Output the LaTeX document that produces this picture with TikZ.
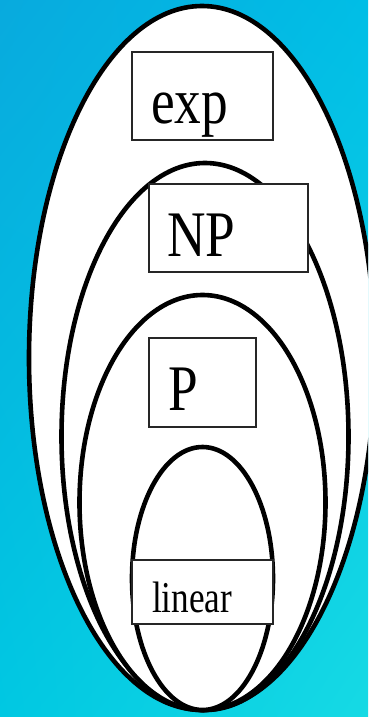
\documentclass[tikz,border=0pt]{standalone}
\usepackage{fontspec}
\setmainfont{Liberation Serif}
\usetikzlibrary{shapes.geometric,shadings}
\definecolor{bgul}{RGB}{8,170,222}
\definecolor{bgur}{RGB}{0,190,230}
\definecolor{bgll}{RGB}{0,200,226}
\definecolor{bglr}{RGB}{22,218,228}
\begin{document}
\begin{tikzpicture}[x=1pt,y=-1pt,
  ring/.style={ellipse,draw=black,fill=white,line width=4.6pt,inner sep=0pt},
  labelbox/.style={rectangle,draw=black!85,fill=white,line width=1.3pt,inner sep=0pt},
  bigtxt/.style={anchor=base west,inner sep=0pt,xscale=0.82,font=\fontsize{65}{65}\selectfont},
  smalltxt/.style={anchor=base west,inner sep=0pt,xscale=0.8,font=\fontsize{44}{44}\selectfont}]
\useasboundingbox (0,0) rectangle (368,717);
\clip (0,0) rectangle (368,717);
\shade[upper left=bgul,upper right=bgur,lower left=bgll,lower right=bglr]
  (0,0) rectangle (368,717);
% nested ellipses
\node[ring,minimum width=346pt,minimum height=704pt] (outer) at (202,358) {};
\node[ring,minimum width=287pt,minimum height=547pt] (npring) at (205,436.5) {};
\node[ring,minimum width=246pt,minimum height=415pt] (pring) at (202.5,502.5) {};
\node[ring,minimum width=141pt,minimum height=263pt] (linring) at (202.5,578.5) {};
% label boxes
\node[labelbox,minimum width=141pt,minimum height=88pt] (expbox) at (202.5,96) {};
\node[labelbox,minimum width=159pt,minimum height=88pt] (npbox) at (228.5,228) {};
\node[labelbox,minimum width=107pt,minimum height=89pt] (pbox) at (202.5,382.5) {};
\node[labelbox,minimum width=141pt,minimum height=64pt] (linbox) at (202.5,592) {};
% texts
\node[bigtxt] (exptxt) at (151,123) {exp};
\node[bigtxt] (nptxt) at (167,256) {NP};
\node[bigtxt] (ptxt) at (168,410) {P};
\node[smalltxt] (lintxt) at (152,612) {linear};
\end{tikzpicture}
\end{document}
